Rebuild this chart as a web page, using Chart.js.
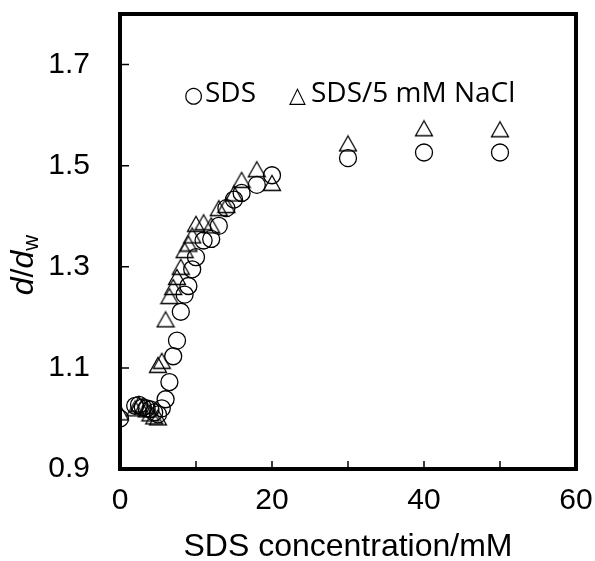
<!DOCTYPE html>
<html>
<head>
<meta charset="utf-8">
<script src="https://cdn.jsdelivr.net/npm/chart.js@4.4.0/dist/chart.umd.min.js"></script>
<style>
html, body { margin: 0; padding: 0; background: #fff; }
#wrap { width: 595px; height: 561px; }
</style>
</head>
<body>
<div id="wrap"><canvas id="c" width="595" height="561"></canvas></div>
<script>
// SDS alone (circles)
const sdsConc  = [0, 2, 2.5, 3, 3.5, 4, 4.5, 5, 5.5, 6, 6.5, 7, 7.5, 8, 8.5, 9, 9.5, 10, 11, 12, 13, 14, 15, 16, 18, 20, 30, 40, 50];
const sdsRatio = [1.000, 1.025, 1.027, 1.022, 1.020, 1.018, 1.012, 1.008, 1.020, 1.038, 1.072, 1.123, 1.154, 1.211, 1.245, 1.262, 1.295, 1.319, 1.352, 1.355, 1.381, 1.416, 1.433, 1.446, 1.462, 1.481, 1.515, 1.526, 1.526];
// SDS with 5 mM NaCl (triangles)
const naclConc  = [0, 2, 2.5, 3, 3.5, 4, 4.5, 5, 5, 5.5, 6, 6.5, 7, 7.5, 8, 8.5, 9, 9.5, 10, 11, 12, 13, 14, 15, 16, 18, 20, 30, 40, 50];
const naclRatio = [1.012, 1.020, 1.028, 1.024, 1.018, 1.010, 1.004, 1.002, 1.106, 1.114, 1.196, 1.242, 1.260, 1.280, 1.300, 1.333, 1.346, 1.362, 1.385, 1.388, 1.382, 1.416, 1.422, 1.445, 1.472, 1.493, 1.466, 1.544, 1.574, 1.572];

const xTicks = [0, 10, 20, 30, 40, 50, 60];
const yTicks = [0.9, 1.1, 1.3, 1.5, 1.7];

const toPoints = (xs, ys) => xs.map((x, i) => ({x: x, y: ys[i]}));

// open triangle marker, centred in its box like the spreadsheet one
function triMarker() {
    const c = document.createElement("canvas");
    c.width = 20; c.height = 18;
    const g = c.getContext("2d");
    g.strokeStyle = "#000";
    g.lineWidth = 1.3;
    g.beginPath();
    g.moveTo(10, 1.5);
    g.lineTo(18.5, 16.5);
    g.lineTo(1.5, 16.5);
    g.closePath();
    g.stroke();
    return c;
}

// keep the plot box where the layout padding puts it
function noOverflow(s) {
    s.paddingTop = 0; s.paddingBottom = 0;
    s.paddingLeft = 0; s.paddingRight = 0;
}

const framePlugin = {
    id: "frame",
    afterDraw(chart) {
        const ctx = chart.ctx;
        const a = chart.chartArea;
        const xs = chart.scales.x, ys = chart.scales.y;
        ctx.save();
        ctx.strokeStyle = "#000";
        // inward tick marks
        ctx.lineWidth = 1.5;
        ctx.beginPath();
        xTicks.forEach(v => {
            const px = xs.getPixelForValue(v);
            ctx.moveTo(px, a.bottom);
            ctx.lineTo(px, a.bottom - 8);
        });
        yTicks.forEach(v => {
            const py = ys.getPixelForValue(v);
            ctx.moveTo(a.left, py);
            ctx.lineTo(a.left + 9, py);
        });
        ctx.stroke();
        // box
        ctx.lineWidth = 4;
        ctx.strokeRect(a.left, a.top, a.right - a.left, a.bottom - a.top);

        // y axis title: d/d_w
        ctx.fillStyle = "#000";
        ctx.translate(24, 265);
        ctx.rotate(-Math.PI / 2);
        ctx.textBaseline = "middle";
        const parts = [
            {t: "d", f: "italic 32px 'Liberation Sans', Arial", dy: 0},
            {t: "/", f: "32px 'Liberation Sans', Arial", dy: 0},
            {t: "d", f: "italic 32px 'Liberation Sans', Arial", dy: 0},
            {t: "w", f: "22px 'Liberation Sans', Arial", dy: 8}
        ];
        let w = 0;
        parts.forEach(p => { ctx.font = p.f; w += ctx.measureText(p.t).width; });
        let x = -w / 2;
        ctx.textAlign = "left";
        parts.forEach(p => {
            ctx.font = p.f;
            ctx.fillText(p.t, x, p.dy);
            x += ctx.measureText(p.t).width;
        });
        ctx.restore();

        // legend text box
        ctx.save();
        ctx.fillStyle = "#000";
        ctx.textBaseline = "alphabetic";
        ctx.textAlign = "left";
        ctx.font = "22px 'DejaVu Sans'";
        ctx.fillText("\u25CB", 184, 102);
        ctx.fillText("\u25B3", 289, 102);
        ctx.font = "28px 'Open Sans'";
        ctx.fillText("SDS", 205, 102);
        ctx.fillText("SDS/5 mM NaCl", 311, 102);
        ctx.restore();
    }
};

new Chart(document.getElementById("c"), {
    type: "scatter",
    data: {
        datasets: [{
            label: "SDS",
            data: toPoints(sdsConc, sdsRatio),
            pointStyle: "circle",
            pointRadius: 8.5,
            pointHoverRadius: 8.5,
            borderColor: "#000",
            borderWidth: 1.3,
            backgroundColor: "rgba(0,0,0,0)"
        }, {
            label: "SDS/5 mM NaCl",
            data: toPoints(naclConc, naclRatio),
            pointStyle: triMarker(),
            pointRadius: 9,
            borderColor: "#000",
            backgroundColor: "rgba(0,0,0,0)"
        }]
    },
    options: {
        responsive: false,
        animation: false,
        layout: {padding: {top: 14, right: 19, left: 0, bottom: 0}},
        plugins: {legend: {display: false}, tooltip: {enabled: false}},
        scales: {
            x: {
                type: "linear",
                min: 0, max: 60,
                afterBuildTicks: s => { s.ticks = xTicks.map(v => ({value: v})); },
                afterFit: s => { s.height = 92; noOverflow(s); },
                grid: {display: false, drawTicks: false},
                border: {display: false},
                ticks: {
                    autoSkip: false, maxRotation: 0,
                    padding: 14,
                    color: "#000",
                    font: {family: "'Liberation Sans', Arial", size: 30},
                    callback: v => (v % 20 === 0 ? String(v) : "")
                },
                title: {
                    display: true,
                    text: "SDS concentration/mM",
                    color: "#000",
                    font: {family: "'Liberation Sans', Arial", size: 32, lineHeight: 1},
                    padding: {top: 0, bottom: -2}
                }
            },
            y: {
                type: "linear",
                min: 0.9, max: 1.8,
                afterBuildTicks: s => { s.ticks = yTicks.map(v => ({value: v})); },
                afterFit: s => { s.width = 120; noOverflow(s); },
                grid: {display: false, drawTicks: false},
                border: {display: false},
                ticks: {
                    padding: 30,
                    color: "#000",
                    font: {family: "'Liberation Sans', Arial", size: 30},
                    callback: v => v.toFixed(1)
                }
            }
        }
    },
    plugins: [framePlugin]
});
</script>
</body>
</html>
